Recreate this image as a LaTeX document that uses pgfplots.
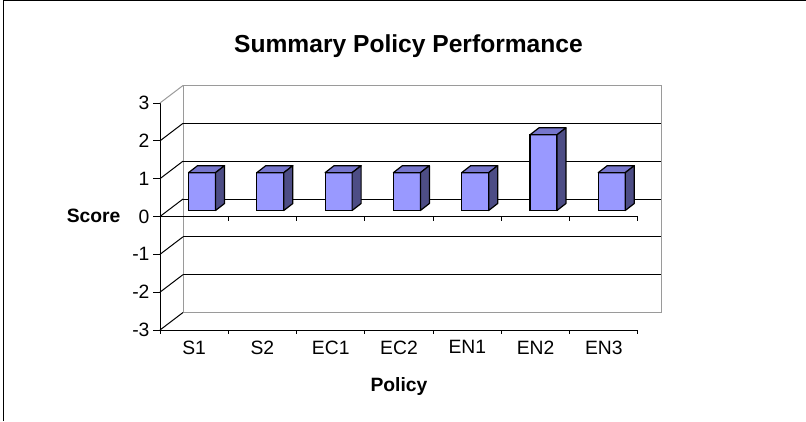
\documentclass[border=0pt]{standalone}
\usepackage{pgfplots}
\pgfplotsset{compat=1.18}
\usepackage{pgfplotstable}
\usepackage{fontspec}
\setmainfont{Liberation Sans}
\definecolor{barfront}{HTML}{9999FF}
\definecolor{bartop}{HTML}{7676CC}
\definecolor{barside}{HTML}{4D4D85}
\definecolor{wallgray}{HTML}{9A9A9A}

\pgfplotstableread{
i name v
0 S1 1
1 S2 1
2 EC1 1
3 EC2 1
4 EN1 1
5 EN2 2
6 EN3 1
}\policydata

\begin{document}
\begin{tikzpicture}
\useasboundingbox (0,0) rectangle (806pt,421pt);
\draw[line width=1.4pt] (3.7pt,0pt) -- (3.7pt,420.3pt) -- (806pt,420.3pt);
\begin{axis}[
  at={(160pt,91pt)}, anchor=south west,
  scale only axis, width=478pt, height=227pt,
  xmin=0, xmax=7, ymin=-3, ymax=3,
  axis x line*=bottom, axis y line*=left,
  axis line style={black, line width=1pt, -},
  xtick={0,...,7}, x tick label as interval,
  xticklabels from table={\policydata}{name},
  xtick style={draw=none},
  ytick={-3,...,3},
  tick align=outside,
  major tick length=7pt,
  ytick style={black, line width=1pt},
  ticklabel style={font=\fontsize{19.3}{22}\selectfont},
  /pgf/number format/assume math mode=true,
  clip=false,
]
% back wall
\draw[wallgray, line width=1pt] (axis cs:0,-3) ++(23pt,17.5pt) rectangle ++(478pt,227pt);
\pgfplotsinvokeforeach{-2,...,2}{\draw[black, line width=1pt] (axis cs:0,#1) ++(23pt,17.5pt) -- ++(478pt,0pt);}
% left side wall
\pgfplotsinvokeforeach{-3,...,2}{\draw[black, line width=1pt] (axis cs:0,#1) -- ++(23pt,17.5pt);}
\draw[wallgray, line width=1pt] (axis cs:0,3) -- ++(23pt,17.5pt);
% zero line and ticks
\draw[black, line width=1pt] (axis cs:0,0) -- (axis cs:7,0);
\pgfplotsinvokeforeach{1,...,7}{\draw[black, line width=1pt] (axis cs:#1,0) -- ++(0pt,-4pt);}
\pgfplotsinvokeforeach{0,...,7}{\draw[black, line width=1pt] (axis cs:#1,-3) -- ++(0pt,-4pt);}
% bars: front faces
\addplot[ybar, bar width=27pt, fill=barfront, draw=black, line width=1.2pt, xshift=7.9pt, yshift=6pt]
  table[x expr=\thisrow{i}+0.5, y=v]{\policydata};
% bars: top and side faces
\pgfplotsforeachungrouped \r in {0,...,6}{%
  \pgfplotstablegetelem{\r}{v}\of\policydata
  \let\val\pgfplotsretval
  \pgfmathsetmacro\xa{\r+0.5-0.1977}%
  \pgfmathsetmacro\xb{\r+0.5+0.1977}%
  \pgfmathsetmacro\xc{\xb+0.1318}%
  \pgfmathsetmacro\xd{\xa+0.1318}%
  \pgfmathsetmacro\yb{\val}%
  \pgfmathsetmacro\yc{\val+0.1850}%
  \pgfmathsetmacro\yd{0.1850}%
  \edef\tmp{%
    \noexpand\addplot[fill=bartop, draw=black, line width=1.2pt, line join=round, xshift=7.9pt, yshift=6pt]
      coordinates {(\xa,\yb) (\xb,\yb) (\xc,\yc) (\xd,\yc)} -- cycle;
    \noexpand\addplot[fill=barside, draw=black, line width=1.2pt, line join=round, xshift=7.9pt, yshift=6pt]
      coordinates {(\xb,0) (\xb,\yb) (\xc,\yc) (\xc,\yd)} -- cycle;
  }%
  \tmp
}
\end{axis}
\node[font=\fontsize{24.6}{28}\selectfont\bfseries, anchor=base] at (408.5pt,421pt-53pt) {Summary Policy Performance};
\node[font=\fontsize{19.3}{22}\selectfont\bfseries, anchor=base east] at (124pt,421pt-222pt) {Score};
\node[font=\fontsize{19.3}{22}\selectfont\bfseries, anchor=base] at (399pt,421pt-391.7pt) {Policy};
\end{tikzpicture}
\end{document}
